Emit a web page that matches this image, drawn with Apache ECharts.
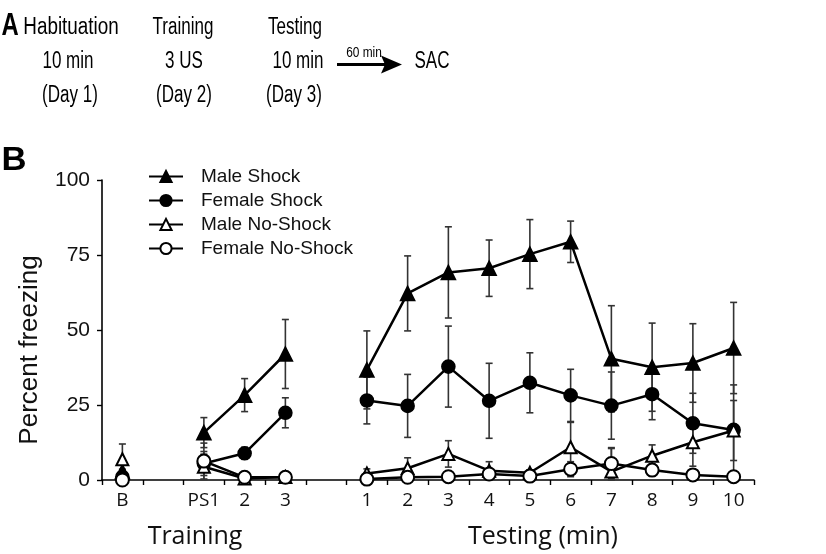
<!DOCTYPE html>
<html>
<head>
<meta charset="utf-8">
<script src="https://cdn.jsdelivr.net/npm/echarts@6/dist/echarts.min.js"></script>
<style>html,body{margin:0;padding:0;background:#fff;}#c{width:826px;height:554px;}</style>
</head>
<body>
<div id="c"></div>
<script>
// Categories (empty strings are the gaps between phases)
const categories = ['B','','PS1','2','3','','1','2','3','4','5','6','7','8','9','10'];
const yTicks = [0, 25, 50, 75, 100];
const seriesNames = ['Male Shock','Female Shock','Male No-Shock','Female No-Shock'];

const maleShock      = [2.8, null, 15.8, 28.3, 42.0, null, 36.7, 62.2, 69.2, 70.6, 75.3, 79.4, 40.4, 37.6, 39.0, 44.0];
const maleShockErr   = [0.8, null, 5.0, 5.5, 11.5, null, 13.0, 12.5, 15.2, 9.4, 11.5, 6.9, 17.7, 14.7, 13.1, 15.2];
const femaleShock    = [1.0, null, 5.5, 8.9, 22.4, null, 26.5, 24.7, 37.8, 26.4, 32.4, 28.2, 24.8, 28.6, 18.9, 16.7];
const femaleShockErr = [0.5, null, 4.0, 2.0, 5.0, null, 7.8, 10.5, 13.5, 12.5, 10.0, 8.7, 11.2, 8.5, 10.0, 15.0];
const maleNo         = [6.9, null, 4.4, 0.5, 1.0, null, 2.2, 3.9, 8.7, 3.1, 2.4, 10.9, 2.8, 8.1, 12.6, 16.5];
const maleNoErr      = [5.1, null, 4.2, 0.5, 0.5, null, 1.5, 3.5, 4.4, 3.0, 1.0, 8.3, 8.0, 3.6, 8.0, 10.0];
const femaleNo       = [0.0, null, 6.3, 0.9, 0.9, null, 0.3, 0.9, 1.1, 2.0, 1.3, 3.6, 5.5, 3.3, 1.7, 1.1];
const femaleNoErr    = [0.3, null, 6.0, 0.5, 0.5, null, 0.3, 0.5, 0.5, 1.0, 0.5, 2.5, 5.0, 2.0, 1.5, 0.5];

function errData(vals, errs) {
  const out = [];
  vals.forEach((v, i) => {
    if (v === null) return;
    out.push([i, Math.max(0, v - errs[i]), v + errs[i]]);
  });
  return out;
}

function renderErr(params, api) {
  const x = api.value(0);
  const lo = api.coord([x, api.value(1)]);
  const hi = api.coord([x, api.value(2)]);
  const w = 3.5;
  const style = { stroke: '#333', lineWidth: 1.6 };
  return {
    type: 'group',
    children: [
      { type: 'line', shape: { x1: lo[0], y1: lo[1], x2: hi[0], y2: hi[1] }, style: style },
      { type: 'line', shape: { x1: hi[0] - w, y1: hi[1], x2: hi[0] + w, y2: hi[1] }, style: style },
      { type: 'line', shape: { x1: lo[0] - w, y1: lo[1], x2: lo[0] + w, y2: lo[1] }, style: style }
    ]
  };
}

function errSeries(vals, errs) {
  return {
    type: 'custom', renderItem: renderErr, data: errData(vals, errs),
    encode: { x: 0, y: [1, 2] }, z: 2, silent: true, legendHoverLink: false
  };
}

function lineSeries(name, data, symbol, size) {
  return {
    name: name, type: 'line', data: data, connectNulls: false,
    symbol: symbol, symbolSize: size, showAllSymbol: true,
    lineStyle: { color: '#000', width: 2.5 },
    itemStyle: { color: '#000', borderColor: '#000', borderWidth: 1.6 },
    z: 3, animation: false
  };
}

const chart = echarts.init(document.getElementById('c'), null, { renderer: 'canvas' });

const narrow = 'Liberation Sans, Arial, sans-serif';
function aText(text, x, y, sx, size, weight) {
  return {
    type: 'text', x: x, y: y, scaleX: sx, z: 10,
    style: {
      text: text, fontFamily: narrow, fontSize: size || 23, fontWeight: weight || 'normal',
      fill: '#000', textAlign: 'center', textVerticalAlign: 'middle'
    }
  };
}

chart.setOption({
  animation: false,
  backgroundColor: '#fff',
  grid: { left: 102, right: 72, top: 180, bottom: 74 },
  legend: {
    orient: 'vertical', left: 143, top: 162,
    itemWidth: 34, itemHeight: 14, itemGap: 5,
    data: seriesNames,
    textStyle: { fontFamily: 'Liberation Sans, Arial', fontSize: 19, color: '#111', padding: [0, 0, 0, 13] }
  },
  xAxis: {
    type: 'category', data: categories, boundaryGap: true,
    axisLine: { lineStyle: { color: '#000', width: 1.6 } },
    axisTick: { show: true, interval: 0, length: 5, lineStyle: { color: '#000', width: 1.4 } },
    axisLabel: { interval: 0, fontFamily: 'Open Sans', fontSize: 19, color: '#111', margin: 11 },
    splitLine: { show: false }
  },
  yAxis: {
    type: 'value', min: yTicks[0], max: yTicks[yTicks.length - 1], interval: 25,
    axisLine: { show: true, lineStyle: { color: '#000', width: 1.6 } },
    axisTick: { show: true, length: 5, lineStyle: { color: '#000', width: 1.4 } },
    axisLabel: { fontFamily: 'Liberation Sans, Arial', fontSize: 21, color: '#111', margin: 12 },
    splitLine: { show: false }
  },
  graphic: [
    aText('A', 10, 26, 0.77, 31, 'bold'),
    aText('Habituation', 71, 28, 0.82),
    aText('Training', 183, 28, 0.74),
    aText('Testing', 295, 28, 0.74),
    aText('10 min', 68, 62, 0.74),
    aText('3 US', 184, 62, 0.74),
    aText('10 min', 298, 62, 0.74),
    aText('SAC', 432, 62, 0.74),
    aText('(Day 1)', 70, 96, 0.74),
    aText('(Day 2)', 184, 96, 0.74),
    aText('(Day 3)', 294, 96, 0.74),
    aText('60 min', 364, 53, 0.85, 14),
    { type: 'line', shape: { x1: 337, y1: 64.5, x2: 390, y2: 64.5 }, style: { stroke: '#000', lineWidth: 3 } },
    { type: 'polygon', shape: { points: [[381, 55.5], [402, 64.5], [381, 73.5], [385, 64.5]] }, style: { fill: '#000' } },
    aText('B', 14, 161, 1.05, 33, 'bold'),
    { type: 'text', x: 30, y: 350, rotation: Math.PI / 2, z: 10, style: { text: 'Percent freezing', fontFamily: 'Liberation Sans, Arial', fontSize: 26, fill: '#111', textAlign: 'center', textVerticalAlign: 'middle' } },
    { type: 'text', x: 195, y: 537, z: 10, style: { text: 'Training', fontFamily: 'Open Sans', fontSize: 25, fill: '#111', textAlign: 'center', textVerticalAlign: 'middle' } },
    { type: 'text', x: 543, y: 537, z: 10, style: { text: 'Testing (min)', fontFamily: 'Open Sans', fontSize: 25, fill: '#111', textAlign: 'center', textVerticalAlign: 'middle' } }
  ],
  series: [
    errSeries(maleShock, maleShockErr),
    errSeries(femaleShock, femaleShockErr),
    errSeries(maleNo, maleNoErr),
    errSeries(femaleNo, femaleNoErr),
    lineSeries(seriesNames[0], maleShock, 'triangle', 14),
    lineSeries(seriesNames[1], femaleShock, 'circle', 13),
    lineSeries(seriesNames[2], maleNo, 'emptyTriangle', 12),
    lineSeries(seriesNames[3], femaleNo, 'emptyCircle', 13)
  ]
});
</script>
</body>
</html>
